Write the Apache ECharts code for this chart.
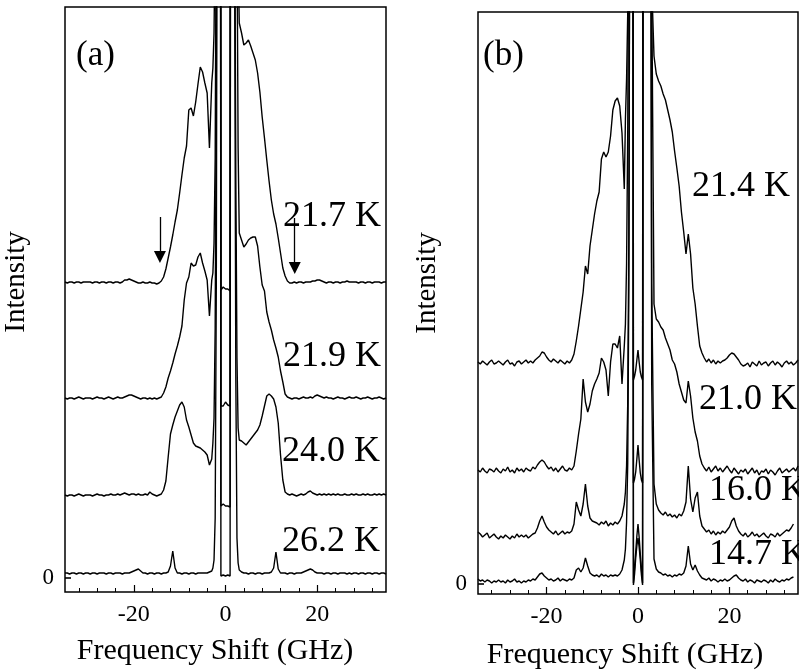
<!DOCTYPE html>
<html>
<head>
<meta charset="utf-8">
<script src="https://cdn.jsdelivr.net/npm/echarts@6.0.0/dist/echarts.min.js"></script>
<style>
  html, body { margin: 0; padding: 0; background: #fff; }
  #chart { width: 799px; height: 672px; }
</style>
</head>
<body>
<div id="chart"></div>
<script>
// frequency shift (GHz), shared by every spectrum
const freq = [
  -35,-34.5,-34,-33.5,-33,-32.5,-32,-31.5,-31,-30.5,
  -30,-29.5,-29,-28.5,-28,-27.5,-27,-26.5,-26,-25.5,
  -25,-24.5,-24,-23.5,-23,-22.5,-22,-21.5,-21,-20.5,
  -20,-19.5,-19,-18.5,-18,-17.5,-17,-16.5,-16,-15.5,
  -15,-14.5,-14,-13.5,-13,-12.5,-12,-11.5,-11,-10.5,
  -10,-9.5,-9,-8.5,-8,-7.5,-7,-6.5,-6,-5.5,
  -5,-4.5,-4,-3.5,-3,
  -2.75,-2.5,-2.25,-2,-1.75,-1.5,-1.25,-1,-0.75,-0.5,-0.25,0,0.25,0.5,0.75,1,1.25,1.5,1.75,2,2.25,2.5,2.75,
  3,3.5,4,4.5,5,5.5,6,6.5,7,7.5,
  8,8.5,9,9.5,10,10.5,11,11.5,12,12.5,
  13,13.5,14,14.5,15,15.5,16,16.5,17,17.5,
  18,18.5,19,19.5,20,20.5,21,21.5,22,22.5,
  23,23.5,24,24.5,25,25.5,26,26.5,27,27.5,
  28,28.5,29,29.5,30,30.5,31,31.5,32,32.5,
  33,33.5,34,34.5,35
];

// panel (a), intensities (arb. units, offset spectra)
const a217 = [
  296,295,296,296,295,296,296,295,296,296,
  296,296,295,296,296,295,296,296,295,296,
  296,295,296,296,295,296,298,298,299,298,
  297,296,295,295,296,295,295,296,295,295,
  294,295,297,301,309,320,331,343,356,368,
  385,403,420,432,468,470,462,476,494,511,
  506,495,485,430,495,
  510,545,650,900,1300,1700,2000,288,290,291,290,289,288,289,288,287,2000,2000,1800,1500,1200,900,620,
  555,545,533,535,538,532,525,518,505,486,
  461,440,418,397,378,364,354,340,325,310,
  302,297,295,295,296,295,296,296,295,296,
  296,296,297,297,298,298,297,296,295,296,
  296,295,296,296,295,296,296,297,296,296,
  296,296,295,296,296,295,296,296,295,296,
  296,296,295,296,296
];
const a219 = [
  180,179,180,180,179,180,181,180,179,180,
  180,180,179,180,181,180,180,179,180,181,
  180,179,180,181,180,180,181,182,183,183,
  182,181,180,179,180,180,179,180,179,180,
  179,180,181,185,191,200,207,215,224,232,
  241,252,278,295,301,315,312,313,321,325,
  315,307,298,262,298,
  305,335,420,700,1200,1600,2000,172,173,172,174,176,175,173,172,172,2000,1800,1500,1200,900,650,430,
  345,338,331,334,338,340,341,341,332,311,
  293,287,266,256,248,238,230,221,207,196,
  184,181,180,179,180,180,179,180,181,180,
  180,181,180,182,183,182,181,180,181,180,
  180,179,180,181,180,180,179,180,181,180,
  180,181,180,179,180,180,181,180,179,180,
  180,181,180,179,180
];
const a240 = [
  83,82,83,83,82,83,84,83,82,83,
  83,83,82,83,84,83,83,82,83,83,
  84,83,83,84,83,84,85,84,83,84,
  84,83,84,83,83,84,83,86,84,83,
  82,83,84,88,97,121,144,153,161,167,
  173,176,171,158,151,143,135,132,131,130,
  128,126,123,113,119,
  135,160,250,500,1000,1500,2000,72,73,74,73,72,73,72,71,71,2000,1500,1000,700,400,220,150,
  138,137,135,133,136,139,142,145,148,153,
  162,172,182,184,182,179,171,155,123,98,
  86,84,83,84,83,82,83,84,83,84,
  86,87,85,84,83,84,83,84,83,84,
  83,84,83,84,83,83,84,83,83,84,
  83,84,83,83,84,83,84,83,83,84,
  83,84,83,84,83
];
const a262 = [
  5,5,4,5,5,4,5,5,4,5,
  5,4,5,5,4,5,5,5,4,5,
  5,4,5,5,5,4,5,5,5,6,
  7,8,9,7,5,5,4,5,5,4,
  5,5,4,5,5,6,12,27,10,5,
  5,4,5,5,4,5,5,4,5,5,
  5,5,5,6,7,
  10,18,60,300,900,1500,2000,2,2,3,2,2,2,3,2,2,2000,1500,1000,600,200,40,15,
  8,6,5,5,4,5,5,4,5,5,
  4,5,5,5,6,10,26,9,5,5,
  5,4,5,5,4,5,5,5,6,7,
  8,9,8,6,5,5,5,4,5,5,
  4,5,5,4,5,5,5,4,5,4,
  5,5,4,5,5,4,5,5,4,5,
  5,4,5,5,4
];

// panel (b)
const b214 = [
  222,220,223,221,219,222,224,220,221,223,
  221,219,222,224,220,221,218,222,223,220,
  222,224,221,223,221,224,226,228,232,231,
  227,224,222,225,223,221,224,222,220,223,
  221,224,230,243,258,275,292,318,310,338,
  354,370,383,392,425,432,427,432,448,474,
  483,486,478,451,395,
  465,505,570,750,1100,1500,2000,204,208,214,224,234,222,212,207,204,2000,2000,1800,1500,1200,1000,800,
  600,528,510,503,498,490,484,474,464,452,
  433,416,398,372,352,330,350,330,296,280,
  258,238,231,226,222,225,221,224,220,223,
  221,223,224,226,229,231,230,227,224,220,
  218,219,221,217,222,220,218,223,219,221,
  222,218,221,223,219,222,220,217,221,223,
  220,222,219,221,224
];
const b210 = [
  114,112,116,113,111,115,114,112,116,113,
  111,115,113,117,112,114,111,116,113,115,
  112,116,114,113,117,115,119,122,124,122,
  118,115,117,113,116,112,115,118,114,113,
  116,114,118,133,150,165,205,182,172,180,
  193,200,205,211,226,222,214,188,222,240,
  240,236,248,200,238,
  260,320,450,700,1100,1500,2000,101,105,112,125,139,124,111,104,101,2000,2000,1900,1700,1500,1200,900,
  600,280,265,262,257,254,246,240,234,224,
  220,212,200,192,184,181,203,188,166,152,
  143,128,120,116,113,117,112,115,118,113,
  116,112,115,118,114,111,116,113,110,114,
  112,115,110,113,116,111,114,109,113,112,
  115,110,114,112,109,113,116,111,113,115,
  112,114,116,113,118
];
const b160 = [
  52,50,47,49,51,46,48,50,47,45,
  48,46,49,47,45,48,46,50,47,49,
  47,49,46,48,50,51,56,63,68,62,
  57,54,52,50,53,49,51,53,50,52,
  51,53,60,82,74,68,80,100,78,66,
  63,62,61,59,62,60,63,58,61,59,
  62,60,63,68,80,
  92,118,180,350,800,1500,2000,1,16,32,48,60,47,30,14,1,2000,1800,1600,1400,1200,1000,900,
  300,100,80,74,71,69,72,68,70,67,
  69,66,70,68,73,82,118,85,72,86,
  92,68,58,55,52,54,50,53,49,52,
  50,53,51,54,57,63,66,58,53,50,
  48,51,47,49,52,48,50,47,49,51,
  48,46,50,49,47,51,48,50,52,54,
  53,56,60
];
const b147 = [
  5,3,4,2,4,3,1,3,2,4,
  2,3,1,4,2,3,5,2,3,1,
  3,2,4,3,5,4,7,10,11,8,
  6,4,5,3,4,6,3,5,4,3,
  5,4,6,14,16,12,16,26,18,11,
  9,8,9,7,10,8,9,7,9,8,
  9,8,10,14,24,
  35,62,120,300,800,1500,2000,-1,10,26,38,46,37,24,9,-1,2000,1800,1600,1400,1200,1000,800,
  200,25,15,12,11,9,10,8,9,7,
  9,8,10,9,11,18,38,20,14,19,
  13,9,6,5,4,6,3,5,4,2,
  4,3,5,3,4,6,8,9,6,4,
  3,5,2,4,3,1,4,3,2,4,
  3,1,4,2,5,3,2,4,3,5,
  4,6,7
];

const majorTicks = [-20, 0, 20];
const minorTicks = [-32, -28, -24, -16, -12, -8, -4, 4, 8, 12, 16, 24, 28, 32];

const serif = '"Liberation Serif", "Times New Roman", serif';

[a217, a219, a240, a262, b214, b210, b160, b147].forEach((arr, k) => {
  if (arr.length !== freq.length) console.error('length mismatch', k, arr.length);
});

function xAxes(g) {
  return [
    {
      gridIndex: g, type: 'value', min: -35, max: 35, position: 'bottom',
      axisLine: { show: false, onZero: false }, splitLine: { show: false },
      axisTick: { inside: true, length: 4, customValues: minorTicks, lineStyle: { color: '#000', width: 1 } },
      axisLabel: { show: false }
    },
    {
      gridIndex: g, type: 'value', min: -35, max: 35, position: 'bottom',
      axisLine: { show: false, onZero: false }, splitLine: { show: false },
      axisTick: { inside: true, length: 7, customValues: majorTicks, lineStyle: { color: '#000', width: 1.2 } },
      axisLabel: { customValues: majorTicks, color: '#000', fontFamily: serif, fontSize: 24, margin: 11 }
    }
  ];
}

function yAxis(g, min, max) {
  return {
    gridIndex: g, type: 'value', min: min, max: max,
    axisLine: { show: false, onZero: false }, splitLine: { show: false },
    axisTick: { inside: true, length: 6, customValues: [0], lineStyle: { color: '#000', width: 1.6 } },
    axisLabel: { customValues: [0], color: '#000', fontFamily: serif, fontSize: 23, margin: 11 }
  };
}

function curve(name, values, g, extra) {
  return Object.assign({
    name: name, type: 'line', xAxisIndex: g * 2 + 1, yAxisIndex: g,
    data: freq.map((f, i) => [f, values[i]]),
    showSymbol: false, symbol: 'none', clip: true, silent: true,
    lineStyle: { color: '#000', width: 1.4 },
    animation: false
  }, extra || {});
}

function label(text, x, y, size) {
  return {
    type: 'text', x: x, y: y,
    style: { text: text, font: size + 'px ' + serif, fill: '#000', align: 'left', verticalAlign: 'middle' }
  };
}

function centered(text, x, y, size, rot) {
  return {
    type: 'text', x: x, y: y, rotation: rot || 0,
    style: { text: text, font: size + 'px ' + serif, fill: '#000', align: 'center', verticalAlign: 'middle' }
  };
}

// arrows marking the edges of the 21.7 K spectrum
const arrows = {
  silent: true, animation: false,
  symbol: ['none', 'triangle'], symbolSize: 12,
  label: { show: false },
  lineStyle: { color: '#000', width: 1.3, type: 'solid' },
  itemStyle: { color: '#000' },
  data: [
    [{ coord: [-14.3, 361] }, { coord: [-14.3, 321] }],
    [{ coord: [15.1, 360] }, { coord: [15.1, 310] }]
  ]
};

const chart = echarts.init(document.getElementById('chart'));

chart.setOption({
  backgroundColor: '#fff',
  animation: false,
  grid: [
    { left: 65, top: 7, width: 321, height: 585, show: true, borderColor: '#000', borderWidth: 1.5, backgroundColor: 'transparent' },
    { left: 478, top: 12, width: 320, height: 582, show: true, borderColor: '#000', borderWidth: 1.5, backgroundColor: 'transparent' }
  ],
  xAxis: xAxes(0).concat(xAxes(1)),
  yAxis: [yAxis(0, -14, 571), yAxis(1, -10, 572)],
  series: [
    curve('21.7 K', a217, 0, { markLine: arrows }),
    curve('21.9 K', a219, 0),
    curve('24.0 K', a240, 0),
    curve('26.2 K', a262, 0),
    curve('21.4 K', b214, 1),
    curve('21.0 K', b210, 1),
    curve('16.0 K', b160, 1),
    curve('14.7 K', b147, 1)
  ],
  graphic: [
    label('(a)', 76, 56, 35),
    label('21.7 K', 283, 217, 36),
    label('21.9 K', 283, 357, 36),
    label('24.0 K', 282, 452, 36),
    label('26.2 K', 282, 542, 36),
    label('(b)', 483, 56, 35),
    label('21.4 K', 692, 187, 36),
    label('21.0 K', 699, 400, 36),
    label('16.0 K', 709, 491, 36),
    label('14.7 K', 709, 555, 36),
    centered('Frequency Shift (GHz)', 215, 651, 30),
    centered('Frequency Shift (GHz)', 625, 655, 30),
    centered('Intensity', 16, 282, 29, Math.PI / 2),
    centered('Intensity', 427, 283, 29, Math.PI / 2)
  ]
});
</script>
</body>
</html>
